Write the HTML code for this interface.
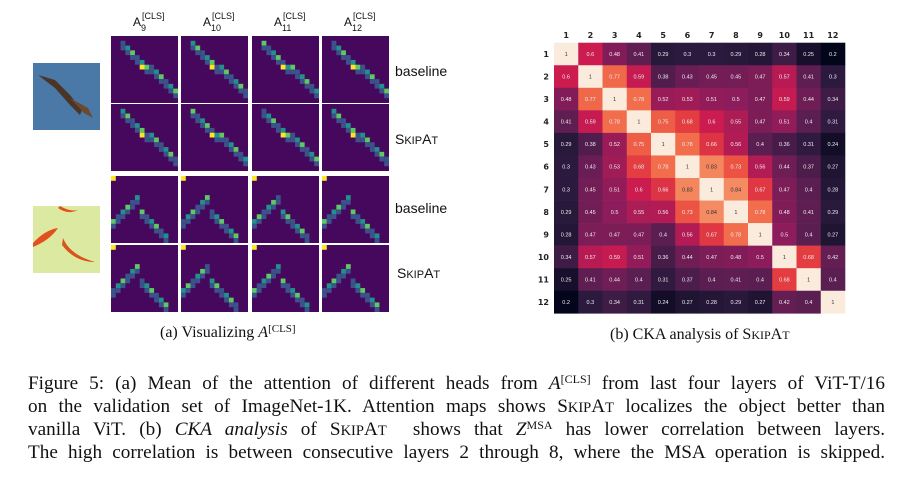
<!DOCTYPE html>
<html><head><meta charset="utf-8">
<style>
body{margin:0;background:#fff;width:902px;height:480px;overflow:hidden;position:relative;font-family:"Liberation Sans",sans-serif}
.abs{position:absolute}
.lbl{font-size:14px;color:#111}
.cap{position:absolute;left:28px;width:857px;height:100px;font-family:"Liberation Serif",serif;font-size:19.2px;line-height:23px;color:#111}
.cap .ln{position:absolute;left:0;width:857px;height:23px;text-align:justify;text-align-last:justify;white-space:normal;overflow:visible}
.cap sup,.sub sup{font-size:12px;position:relative;top:-0.5em;vertical-align:baseline;line-height:0}
.sm{font-size:14.5px}
.sub{font-family:"Liberation Serif",serif;font-size:16px;color:#111}
</style></head><body>
<svg class="abs" style="left:0;top:0" width="902" height="480" id="svg"></svg>

<div class="abs lbl" style="left:395px;top:63px">baseline</div>
<div class="abs lbl" style="left:395px;top:131px">S<span style="font-size:11px">KIP</span>A<span style="font-size:11px">T</span></div>
<div class="abs lbl" style="left:395px;top:200px">baseline</div>
<div class="abs lbl" style="left:397px;top:265px">S<span style="font-size:11px">KIP</span>A<span style="font-size:11px">T</span></div>

<div class="abs sub" style="left:160px;top:324px">(a) Visualizing <i>A</i><sup style="font-size:11px">[CLS]</sup></div>
<div class="abs sub" style="left:610px;top:326px">(b) CKA analysis of S<span style="font-size:12px">KIP</span>A<span style="font-size:12px">T</span></div>

<div class="cap" style="top:372px">
<div class="ln" style="top:0">Figure 5: (a) Mean of the attention of different heads from <i>A</i><sup>[CLS]</sup> from last four layers of ViT-T/16</div>
<div class="ln" style="top:23px">on the validation set of ImageNet-1K. Attention maps shows S<span class="sm">KIP</span>A<span class="sm">T</span> localizes the object better than</div>
<div class="ln" style="top:46px">vanilla ViT. (b) <i>CKA analysis</i> of S<span class="sm">KIP</span>A<span class="sm">T</span>&nbsp; shows that <i>Z</i><sup>MSA</sup> has lower correlation between layers.</div>
<div class="ln" style="top:69px">The high correlation is between consecutive layers 2 through 8, where the MSA operation is skipped.</div>
</div>

<script>
const layers=['1','2','3','4','5','6','7','8','9','10','11','12'];
const cka=[
[1,0.6,0.48,0.41,0.29,0.3,0.3,0.29,0.28,0.34,0.25,0.2],
[0.6,1,0.77,0.59,0.38,0.43,0.45,0.45,0.47,0.57,0.41,0.3],
[0.48,0.77,1,0.78,0.52,0.53,0.51,0.5,0.47,0.59,0.44,0.34],
[0.41,0.59,0.78,1,0.75,0.68,0.6,0.55,0.47,0.51,0.4,0.31],
[0.29,0.38,0.52,0.75,1,0.78,0.66,0.56,0.4,0.36,0.31,0.24],
[0.3,0.43,0.53,0.68,0.78,1,0.83,0.73,0.56,0.44,0.37,0.27],
[0.3,0.45,0.51,0.6,0.66,0.83,1,0.84,0.67,0.47,0.4,0.28],
[0.29,0.45,0.5,0.55,0.56,0.73,0.84,1,0.78,0.48,0.41,0.29],
[0.28,0.47,0.47,0.47,0.4,0.56,0.67,0.78,1,0.5,0.4,0.27],
[0.34,0.57,0.59,0.51,0.36,0.44,0.47,0.48,0.5,1,0.68,0.42],
[0.25,0.41,0.44,0.4,0.31,0.37,0.4,0.41,0.4,0.68,1,0.4],
[0.2,0.3,0.34,0.31,0.24,0.27,0.28,0.29,0.27,0.42,0.4,1]];
const colHeads=['9','10','11','12'];

const NS='http://www.w3.org/2000/svg';
const svg=document.getElementById('svg');
function mk(t,a,p){const e=document.createElementNS(NS,t);for(const k in a)e.setAttribute(k,a[k]);(p||svg).appendChild(e);return e;}
const stops=[[0,[3,5,26]],[0.125,[44,26,62]],[0.25,[90,30,81]],[0.375,[140,28,91]],[0.5,[203,27,79]],[0.625,[233,68,62]],[0.75,[243,119,79]],[0.875,[246,170,130]],[1,[250,235,221]]];
function rocket(v){let t=(v-0.2)/0.8;t=Math.max(0,Math.min(1,t));for(let i=1;i<stops.length;i++){if(t<=stops[i][0]){const a=stops[i-1],b=stops[i],f=(t-a[0])/(b[0]-a[0]);return 'rgb('+a[1].map((c,j)=>Math.round(c+(b[1][j]-c)*f)).join(',')+')';}}return 'rgb(250,235,221)';}
const hx0=554,hy0=42.7,cw=24.25,ch=22.55;
const xs=i=>hx0+i*cw, ys=i=>hy0+i*ch;
cka.forEach((row,r)=>row.forEach((v,c)=>{
  const rc=mk('rect',{x:xs(c),y:ys(r),width:cw+0.3,height:ch+0.3,fill:rocket(v)});
  
  
  const t=mk('text',{x:xs(c)+cw/2,y:ys(r)+ch/2+2,'font-size':5.5,'text-anchor':'middle',fill:v>0.8?'#333':'#eee','font-family':'Liberation Sans'});
  t.textContent=String(v);
}));
layers.forEach((l,i)=>{
  const a=mk('text',{x:xs(i)+cw/2,y:38,'font-size':8,'font-weight':'bold','text-anchor':'middle',fill:'#222','font-family':'DejaVu Sans'});a.textContent=l;
  
  const b=mk('text',{x:549,y:ys(i)+ch/2+3,'font-size':8,'font-weight':'bold','text-anchor':'end',fill:'#222','font-family':'DejaVu Sans'});b.textContent=l;
  
});
const bird=mk('g',{});
mk('rect',{x:33,y:63,width:67,height:67,fill:'#4a79a8'},bird);
mk('path',{d:'M38 75 L55 80 L70 95 L82 110 L80 115 L70 105 L55 88 Z',fill:'#4a3526'},bird);
mk('path',{d:'M70 98 L88 108 L93 118 L84 113 Z',fill:'#6b4a30'},bird);
const fish=mk('g',{});
mk('rect',{x:33,y:206,width:67,height:67,fill:'#dce9a0'},fish);
mk('path',{d:'M33 243 Q45 230 58 228 Q50 240 33 247 Z',fill:'#e2501e'},fish);
mk('path',{d:'M63 238 Q70 255 95 262 Q75 262 62 245 Z',fill:'#d8541e'},fish);
mk('path',{d:'M60 206 Q70 212 78 210 Q68 215 58 208Z',fill:'#e2501e'},fish);
const colX=[111,181,252,322], rowY=[36,104,176,245], T=67;
colHeads.forEach((h,i)=>{
  const t=mk('text',{x:colX[i]+22,y:26,'font-size':12,fill:'#111','font-family':'Liberation Sans'});
  
  t.textContent='A';
  const s=mk('tspan',{dy:5,'font-size':9});s.textContent=h;t.appendChild(s);
  const s2=mk('tspan',{x:colX[i]+31,dy:-12,'font-size':9});s2.textContent='[CLS]';t.appendChild(s2);
});
const v=['#440154','#3b528b','#21918c','#5ec962','#fde725'];
rowY.forEach((y0,r)=>colX.forEach((x0,c)=>{
  const g=mk('g',{});
  mk('rect',{x:x0,y:y0,width:T,height:T,fill:'#46085c'},g);
  const s=T/14;
  for(let k=0;k<12;k++){
    let i,j;
    if(r<2){i=2+k;j=1+k*0.9;}else{i=k;j=k<6?6-k:(k-6)+4;}
    const col=v[1+((k*7+c+r)%3)];
    mk('rect',{x:x0+Math.round(i)*s,y:y0+Math.round(j)*s+(r<2?0:s*3),width:s,height:s,fill:col},g);
    mk('rect',{x:x0+Math.round(i)*s,y:y0+(Math.round(j)+1)*s+(r<2?0:s*3),width:s,height:s,fill:v[1]},g);
  }
  mk('rect',{x:x0+(r<2?6:0)*s,y:y0+(r<2?6:0)*s,width:s,height:s,fill:v[4]},g);
}));
</script>
</body></html>
